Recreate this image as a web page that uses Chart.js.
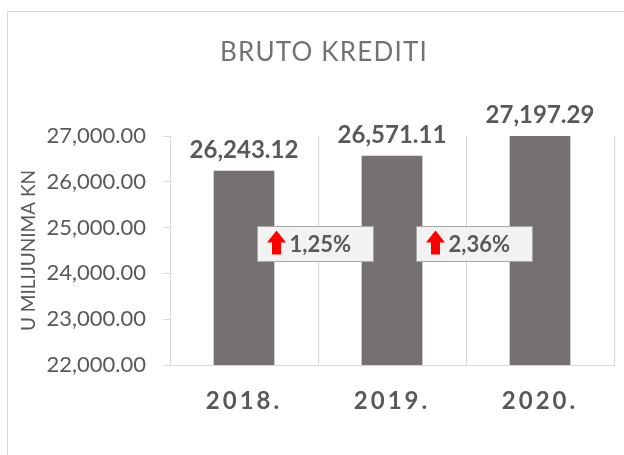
<!DOCTYPE html>
<html>
<head>
<meta charset="utf-8">
<script src="https://cdn.jsdelivr.net/npm/chart.js@4.4.0/dist/chart.umd.min.js"></script>
<style>
    html, body { margin: 0; padding: 0; background: #fff; }
</style>
</head>
<body>
<canvas id="chart1" width="624" height="455"></canvas>
<script>
// data
var years = ["2018.", "2019.", "2020."];
var credits = [26243.12, 26571.11, 27197.29];
var growth = ["1,25%", "2,36%"];
var growthLevel = 24650; // where the growth boxes sit on the value axis
var yMin = 22000, yMax = 27000, yStep = 1000;

var gray = '#595959';
var barColor = '#767171';
var lineColor = '#d9d9d9';

function fmt(v) {
    return v.toLocaleString('en-US', { minimumFractionDigits: 2, maximumFractionDigits: 2 });
}

// frame, title, value labels and growth boxes
var framePlugin = {
    id: 'frame',
    beforeDraw: function (chart) {
        var ctx = chart.ctx;
        ctx.save();
        ctx.strokeStyle = lineColor;
        ctx.lineWidth = 1;
        ctx.strokeRect(7.5, 11.5, 800, 600);
        ctx.fillStyle = '#757171';
        ctx.font = '26px Lato';
        ctx.letterSpacing = '1.2px';
        ctx.textAlign = 'center';
        ctx.textBaseline = 'alphabetic';
        ctx.fillText('BRUTO KREDITI', 324, 61);
        ctx.restore();
    },
    afterDatasetsDraw: function (chart) {
        // x tick labels are drawn after this (ticks.z = 1) and get the spacing
        chart.ctx.letterSpacing = '3px';
    },
    afterDraw: function (chart) {
        var ctx = chart.ctx;
        ctx.letterSpacing = '0px';
        var area = chart.chartArea;
        var meta = chart.getDatasetMeta(0);
        var xs = chart.scales.x, ys = chart.scales.y;

        // value labels
        ctx.save();
        ctx.fillStyle = gray;
        ctx.font = 'bold 24px Lato';
        ctx.textAlign = 'center';
        ctx.textBaseline = 'alphabetic';
        meta.data.forEach(function (bar, i) {
            var top = Math.max(bar.y, area.top);
            ctx.fillText(fmt(credits[i]), bar.x, top - 13);
        });
        ctx.restore();

        // growth boxes between the bars
        var shift = [-3, 8];
        growth.forEach(function (txt, i) {
            var cx = (xs.getPixelForValue(i) + xs.getPixelForValue(i + 1)) / 2 + shift[i];
            var cy = ys.getPixelForValue(growthLevel);
            var w = 116, h = 35;
            var x0 = Math.round(cx - w / 2) + 0.5, y0 = Math.round(cy - h / 2) + 0.5;
            ctx.save();
            ctx.fillStyle = '#f2f2f2';
            ctx.strokeStyle = '#a6a6a6';
            ctx.lineWidth = 1;
            ctx.fillRect(x0, y0, w, h);
            ctx.strokeRect(x0, y0, w, h);
            // red arrow
            var ax = x0 + 19, ay = y0 + 4;
            ctx.fillStyle = '#ff0000';
            ctx.beginPath();
            ctx.moveTo(ax, ay);
            ctx.lineTo(ax + 9.5, ay + 12);
            ctx.lineTo(ax + 4.5, ay + 12);
            ctx.lineTo(ax + 4.5, ay + 24);
            ctx.lineTo(ax - 4.5, ay + 24);
            ctx.lineTo(ax - 4.5, ay + 12);
            ctx.lineTo(ax - 9.5, ay + 12);
            ctx.closePath();
            ctx.fill();
            ctx.fillStyle = gray;
            ctx.font = 'bold 22px Lato';
            ctx.textAlign = 'left';
            ctx.textBaseline = 'middle';
            ctx.fillText(txt, x0 + 32, cy + 1);
            ctx.restore();
        });
    }
};

var ctx1 = document.getElementById('chart1').getContext('2d');
var chart1 = new Chart(ctx1, {
    type: 'bar',
    plugins: [framePlugin],
    data: {
        labels: years,
        datasets: [{
            data: credits,
            backgroundColor: barColor,
            borderWidth: 0,
            barPercentage: 0.41,
            categoryPercentage: 1
        }]
    },
    options: {
        responsive: false,
        animation: false,
        layout: { padding: { top: 136, left: 8, right: 10, bottom: 0 } },
        plugins: {
            legend: { display: false },
            title: { display: false },
            tooltip: { enabled: false }
        },
        scales: {
            x: {
                offset: true,
                afterFit: function (s) { s.height = 90; },
                grid: { offset: true, color: lineColor, tickLength: 0, drawTicks: false },
                border: { color: lineColor },
                ticks: {
                    z: 1,
                    color: gray,
                    font: { family: 'Lato', size: 24, weight: 'bold' },
                    padding: 22
                }
            },
            y: {
                min: yMin,
                max: yMax,
                afterFit: function (s) { s.width = 162; },
                grid: { drawOnChartArea: false, color: lineColor, tickLength: 7 },
                border: { color: lineColor },
                ticks: {
                    stepSize: yStep,
                    color: gray,
                    padding: 17,
                    font: { family: 'Lato', size: 22 },
                    callback: function (v) { return fmt(v); }
                },
                title: {
                    display: true,
                    text: 'U MILIJUNIMA KN',
                    color: gray,
                    font: { family: 'Lato', size: 19 },
                    padding: { top: 9, bottom: 0 }
                }
            }
        }
    }
});
</script>
</body>
</html>
